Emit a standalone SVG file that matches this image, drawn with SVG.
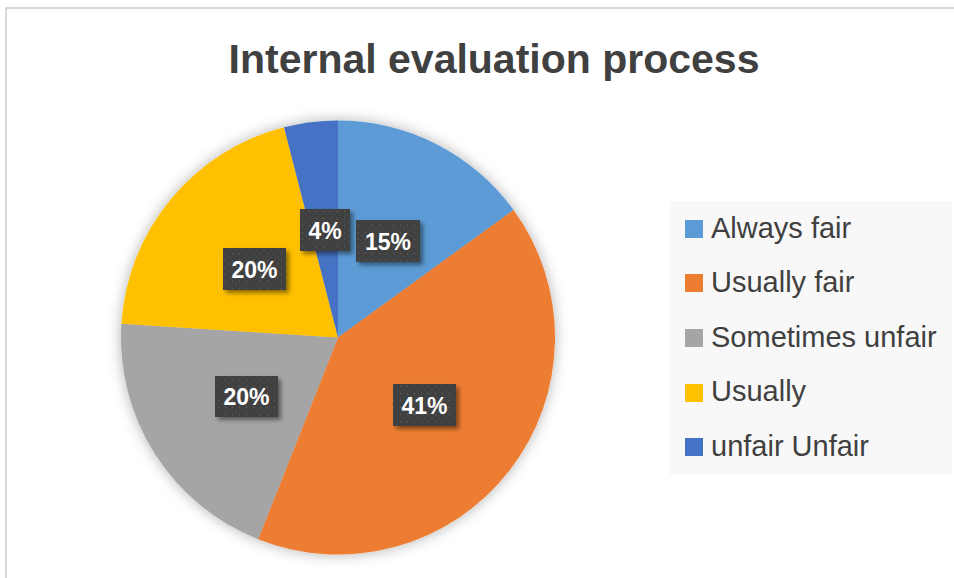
<svg xmlns="http://www.w3.org/2000/svg" width="954" height="578" viewBox="0 0 954 578">
<style>
.title{font-family:"Liberation Sans",Arial,sans-serif;font-weight:bold;font-size:41px;fill:#404040}
.leg{font-family:"Liberation Sans",Arial,sans-serif;font-size:29px;fill:#404040}
.lbl{font-family:"Liberation Sans",Arial,sans-serif;font-weight:bold;font-size:23px;fill:#ffffff;text-anchor:middle}
.box{fill:url(#dots);filter:url(#boxShadow)}
</style>
<defs>
<filter id="pieShadow" x="-20%" y="-20%" width="140%" height="140%">
<feDropShadow dx="0" dy="0" stdDeviation="7" flood-color="#000" flood-opacity="0.3"/>
</filter>
<filter id="boxShadow" x="-20%" y="-20%" width="150%" height="150%">
<feDropShadow dx="3" dy="3" stdDeviation="2" flood-color="#000" flood-opacity="0.45"/>
</filter>
<pattern id="dots" width="7" height="7" patternUnits="userSpaceOnUse">
<rect width="7" height="7" fill="#404040"/>
<circle cx="1.5" cy="1.5" r="0.9" fill="#555555"/>
<circle cx="5" cy="5" r="0.7" fill="#4c4c4c"/>
</pattern>
</defs>
<rect width="954" height="578" fill="#ffffff"/>
<path d="M6,578 V8 H954" fill="none" stroke="#cccccc" stroke-width="1.5"/>
<text class="title" x="494" y="73" text-anchor="middle">Internal evaluation process</text>
<g id="pie" filter="url(#pieShadow)">
<g id="slice-always-fair"><path d="M338,337.5 L338,120.5 A217,217 0 0 1 513.56,209.95 Z" fill="#5B9BD5"/></g>
<g id="slice-usually-fair"><path d="M338,337.5 L513.56,209.95 A217,217 0 0 1 258.12,539.26 Z" fill="#ED7D31"/></g>
<g id="slice-sometimes-unfair"><path d="M338,337.5 L258.12,539.26 A217,217 0 0 1 121.43,323.87 Z" fill="#A5A5A5"/></g>
<g id="slice-usually"><path d="M338,337.5 L121.43,323.87 A217,217 0 0 1 284.03,127.32 Z" fill="#FFC000"/></g>
<g id="slice-unfair"><path d="M338,337.5 L284.03,127.32 A217,217 0 0 1 338,120.5 Z" fill="#4472C4"/></g>
</g>
<g id="labels">
<g id="label-4"><rect class="box" x="300" y="209" width="50" height="42"/><text class="lbl" x="325" y="239">4%</text></g>
<g id="label-15"><rect class="box" x="356" y="220" width="64" height="42"/><text class="lbl" x="388" y="250">15%</text></g>
<g id="label-20a"><rect class="box" x="223" y="248" width="63" height="42"/><text class="lbl" x="254.5" y="278">20%</text></g>
<g id="label-20b"><rect class="box" x="215" y="376" width="63" height="41"/><text class="lbl" x="246.5" y="404.5">20%</text></g>
<g id="label-41"><rect class="box" x="393" y="384" width="63" height="42"/><text class="lbl" x="424.5" y="414">41%</text></g>
</g>
<g id="legend">
<rect x="670" y="201" width="282" height="274" fill="#f8f8f8"/>
<g id="leg-1"><rect x="685" y="220" width="18" height="18" fill="#5B9BD5"/><text class="leg" x="711" y="237.7">Always fair</text></g>
<g id="leg-2"><rect x="685" y="274" width="18" height="18" fill="#ED7D31"/><text class="leg" x="711" y="292.2">Usually fair</text></g>
<g id="leg-3"><rect x="685" y="329" width="18" height="18" fill="#A5A5A5"/><text class="leg" x="711" y="346.7">Sometimes unfair</text></g>
<g id="leg-4"><rect x="685" y="384" width="18" height="18" fill="#FFC000"/><text class="leg" x="711" y="401.2">Usually</text></g>
<g id="leg-5"><rect x="685" y="438" width="18" height="18" fill="#4472C4"/><text class="leg" x="711" y="455.7">unfair Unfair</text></g>
</g>
</svg>
